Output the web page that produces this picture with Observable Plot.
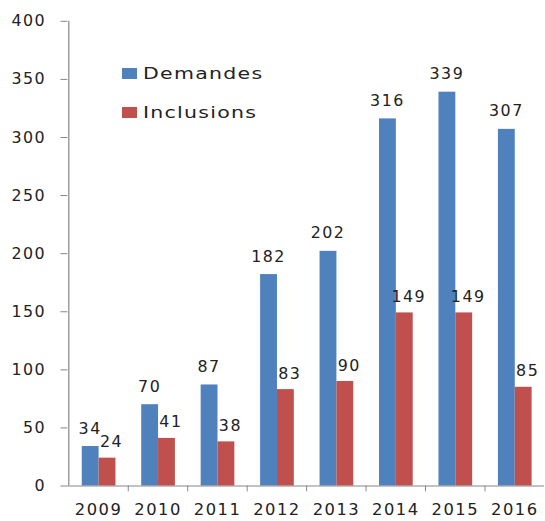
<!DOCTYPE html>
<html>
<head>
<meta charset="utf-8">
<script src="https://cdn.jsdelivr.net/npm/d3@7"></script>
<script src="https://cdn.jsdelivr.net/npm/@observablehq/plot@0.6"></script>
<style>
  html, body { margin: 0; padding: 0; background: #fff; overflow: hidden; }
  #wrap { position: relative; width: 545px; height: 521px; overflow: hidden; }
  #wrap svg text { letter-spacing: 1.5px; }
  #wrap svg [aria-label="y-axis tick label"], #wrap svg [aria-label="y-axis tick label"] text { font-size: 16px !important; }
  #wrap svg [aria-label="x-axis tick label"], #wrap svg [aria-label="x-axis tick label"] text { font-size: 16.5px !important; }
  .legend { position: absolute; left: 122px; top: 0; font-family: "DejaVu Sans", sans-serif; color: #222; }
  .legend .row { position: absolute; left: 0; display: flex; align-items: center; white-space: nowrap; }
  .legend .sw { width: 15px; height: 11px; display: inline-block; }
  .legend .lbl { display: inline-block; font-size: 16px; letter-spacing: 1px; transform: scaleX(1.28); transform-origin: left center; margin-left: 6px; }
</style>
</head>
<body>
<div id="wrap"></div>
<script>
const years = ["2009","2010","2011","2012","2013","2014","2015","2016"];
const demandes = [34, 70, 87, 182, 202, 316, 339, 307];
const inclusions = [24, 41, 38, 83, 90, 149, 149, 85];
const yTicks = [0, 50, 100, 150, 200, 250, 300, 350, 400];
const seriesNames = ["Demandes", "Inclusions"];
const seriesColors = ["#4F81BD", "#C0504D"];

const rows = years.map((y, i) => ({year: y, demandes: demandes[i], inclusions: inclusions[i]}));

const W = 550, ML = 68, MR = 1;
const bw = (W - ML - MR) / years.length;
const axisColor = "#868686";
const font = "DejaVu Sans, sans-serif";

const chart = Plot.plot({
  width: W,
  height: 521,
  marginLeft: ML,
  marginRight: MR,
  marginTop: 21,
  marginBottom: 31,
  style: {fontFamily: font, fontSize: "16px", background: "#fff", overflow: "visible"},
  x: {type: "band", domain: years, padding: 0, label: null},
  y: {domain: [0, 400], label: null},
  marks: [
    Plot.barY(rows, {x: "year", y: "demandes", fill: seriesColors[0], insetLeft: 13.5, insetRight: 29.5}),
    Plot.barY(rows, {x: "year", y: "inclusions", fill: seriesColors[1], insetLeft: 30.5, insetRight: 12.5}),
    Plot.text(rows, {x: "year", y: "demandes", text: d => String(d.demandes), dx: -8.5, dy: -13, lineAnchor: "bottom", fontSize: 16, fill: "#222"}),
    Plot.text(rows, {x: "year", y: "inclusions", text: d => String(d.inclusions), dx: 13, dy: -11, lineAnchor: "bottom", fontSize: 16, fill: "#222"}),
    Plot.ruleY([0], {stroke: axisColor, strokeWidth: 1.2}),
    Plot.ruleX([years[0]], {dx: -bw / 2, y1: 0, y2: 400, stroke: axisColor, strokeWidth: 1.2}),
    Plot.ruleX(years.slice(1), {dx: -bw / 2, y1: 0, y2: -5, stroke: axisColor, clip: false}),
    Plot.axisY({ticks: yTicks, tickSize: 7, tickPadding: 15, stroke: axisColor, fontSize: 16, fill: "#222", label: null}),
    Plot.axisX({tickSize: 0, tickPadding: 18, fontSize: 16.5, fill: "#222", label: null})
  ]
});

const wrap = document.getElementById("wrap");
wrap.appendChild(chart);

const legend = document.createElement("div");
legend.className = "legend";
const tops = [64, 103];
seriesNames.forEach((name, i) => {
  const row = document.createElement("div");
  row.className = "row";
  row.style.top = tops[i] + "px";
  row.innerHTML = `<span class="sw" style="background:${seriesColors[i]}"></span><span class="lbl">${name}</span>`;
  legend.appendChild(row);
});
wrap.appendChild(legend);
</script>
</body>
</html>
